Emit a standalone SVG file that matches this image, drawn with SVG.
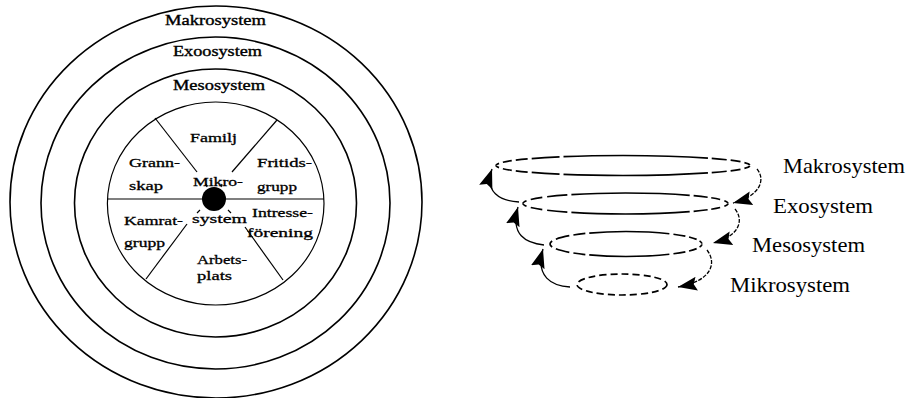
<svg xmlns="http://www.w3.org/2000/svg" width="908" height="398" viewBox="0 0 908 398">
<style>
.ring{fill:none;stroke:#000;stroke-width:1.6}
.spoke{fill:none;stroke:#000;stroke-width:1.2}
.rl{font-family:"Liberation Serif","Times New Roman",serif;font-size:14px;fill:#000;stroke:#000;stroke-width:0.35}
.sl{font-family:"Liberation Serif","Times New Roman",serif;font-size:13px;fill:#000;stroke:#000;stroke-width:0.3}
.tl{font-family:"Liberation Serif","Times New Roman",serif;font-size:21px;fill:#000}
.el{fill:none;stroke:#000;stroke-width:1.7}
.arr{fill:none;stroke:#000;stroke-width:1.3}
.arrd{fill:none;stroke:#000;stroke-width:1.3;stroke-dasharray:4 1.5}
</style>
<defs>
<marker id="ah" markerUnits="userSpaceOnUse" markerWidth="20" markerHeight="14" viewBox="0 0 20 14" refX="19" refY="7" orient="auto">
<path d="M0,0 L19,7 L0,14 L3,7 z" fill="#000"/>
</marker>
</defs>
<rect width="908" height="398" fill="#fff"/>
<g id="makrosystem-ring">
<ellipse class="ring" cx="216" cy="202" rx="206" ry="196"/>
<text class="rl" x="165" y="25" textLength="101" lengthAdjust="spacingAndGlyphs">Makrosystem</text>
</g>
<g id="exoosystem-ring">
<ellipse class="ring" cx="215.5" cy="203" rx="174.5" ry="166"/>
<text class="rl" x="173" y="56" textLength="89" lengthAdjust="spacingAndGlyphs">Exoosystem</text>
</g>
<g id="mesosystem-ring">
<ellipse class="ring" cx="215.5" cy="203" rx="141" ry="134"/>
<text class="rl" x="173" y="90" textLength="92" lengthAdjust="spacingAndGlyphs">Mesosystem</text>
</g>
<g id="mikrosystem-wheel">
<ellipse class="spoke" cx="215.7" cy="203.5" rx="108.3" ry="101.5"/>
<line class="spoke" x1="107.5" y1="199" x2="324" y2="199"/>
<line class="spoke" x1="155" y1="118" x2="197" y2="172"/>
<line class="spoke" x1="277" y1="120" x2="232" y2="172"/>
<line class="spoke" x1="146" y1="279" x2="187" y2="224"/>
<line class="spoke" x1="245" y1="227" x2="283" y2="280"/>
<circle cx="214" cy="199" r="12" fill="#000"/>
<path class="spoke" d="M207,187 l-1,-3 M221,187 l1,-3 M200,210 l-3,3 M228,210 l3,3"/>
<text class="sl" x="193" y="186" textLength="50" lengthAdjust="spacingAndGlyphs">Mikro-</text>
<text class="sl" x="192" y="223" textLength="55" lengthAdjust="spacingAndGlyphs">system</text>
</g>
<g id="familj">
<text class="sl" x="190" y="142" textLength="47" lengthAdjust="spacingAndGlyphs">Familj</text>
</g>
<g id="grannskap">
<text class="sl" x="129" y="167" textLength="51" lengthAdjust="spacingAndGlyphs">Grann-</text>
<text class="sl" x="129" y="190" textLength="34" lengthAdjust="spacingAndGlyphs">skap</text>
</g>
<g id="fritidsgrupp">
<text class="sl" x="257" y="167" textLength="55" lengthAdjust="spacingAndGlyphs">Fritids-</text>
<text class="sl" x="257" y="191" textLength="40" lengthAdjust="spacingAndGlyphs">grupp</text>
</g>
<g id="kamratgrupp">
<text class="sl" x="124" y="225" textLength="59" lengthAdjust="spacingAndGlyphs">Kamrat-</text>
<text class="sl" x="124" y="247" textLength="41" lengthAdjust="spacingAndGlyphs">grupp</text>
</g>
<g id="intresseforening">
<text class="sl" x="252" y="217" textLength="61" lengthAdjust="spacingAndGlyphs">Intresse-</text>
<text class="sl" x="247" y="237" textLength="66" lengthAdjust="spacingAndGlyphs">förening</text>
</g>
<g id="arbetsplats">
<text class="sl" x="197" y="264" textLength="50" lengthAdjust="spacingAndGlyphs">Arbets-</text>
<text class="sl" x="197" y="280" textLength="35" lengthAdjust="spacingAndGlyphs">plats</text>
</g>
<g id="makro-level">
<path class="el" d="M496,165.5 A127,10 0 0 1 750,165.5" stroke-dasharray="4 4 9 4 12 4 28 4 144 4 15 4 10 4 6 40"/>
<path class="el" d="M496,165.5 A127,10 0 0 0 750,165.5" stroke-dasharray="4 4 9 4 12 4 28 4 144 4 15 4 10 4 6 40"/>
<text class="tl" x="783" y="173" textLength="122" lengthAdjust="spacingAndGlyphs">Makrosystem</text>
</g>
<g id="exo-level">
<path class="el" d="M523,203.5 A102.5,10.5 0 0 1 728,203.5" stroke-dasharray="5 4 12 5 20 4 118 4 14 4 9 4 5 40"/>
<path class="el" d="M523,203.5 A102.5,10.5 0 0 0 728,203.5" stroke-dasharray="5 4 12 5 20 4 118 4 14 4 9 4 5 40"/>
<text class="tl" x="773" y="213" textLength="100" lengthAdjust="spacingAndGlyphs">Exosystem</text>
</g>
<g id="meso-level">
<path class="el" d="M550,244 A76,12.5 0 0 1 702,244" stroke-dasharray="4 4 14 4 12 4 80 4 12 4 8 3 4 40"/>
<path class="el" d="M550,244 A76,12.5 0 0 0 702,244" stroke-dasharray="4 4 14 4 12 4 80 4 12 4 8 3 4 40"/>
<text class="tl" x="752" y="252" textLength="113" lengthAdjust="spacingAndGlyphs">Mesosystem</text>
</g>
<g id="mikro-level">
<ellipse class="el" cx="622" cy="284.5" rx="45" ry="10.5" stroke-dasharray="7 4"/>
<text class="tl" x="730" y="292" textLength="120" lengthAdjust="spacingAndGlyphs">Mikrosystem</text>
</g>
<g id="connectors">
<path class="arrd" d="M757,169 C766,180 760,196 733,203" marker-end="url(#ah)"/>
<path class="arrd" d="M735,209 C744,220 740,236 713,243" marker-end="url(#ah)"/>
<path class="arrd" d="M707,250 C717,263 712,281 678,287" marker-end="url(#ah)"/>
<path class="arr" d="M519,202 C500,201 484,192 492,169" marker-end="url(#ah)"/>
<path class="arr" d="M544,245 C526,243 510,235 518,207" marker-end="url(#ah)"/>
<path class="arr" d="M570,287 C552,286 535,277 543,249" marker-end="url(#ah)"/>
</g>
</svg>
